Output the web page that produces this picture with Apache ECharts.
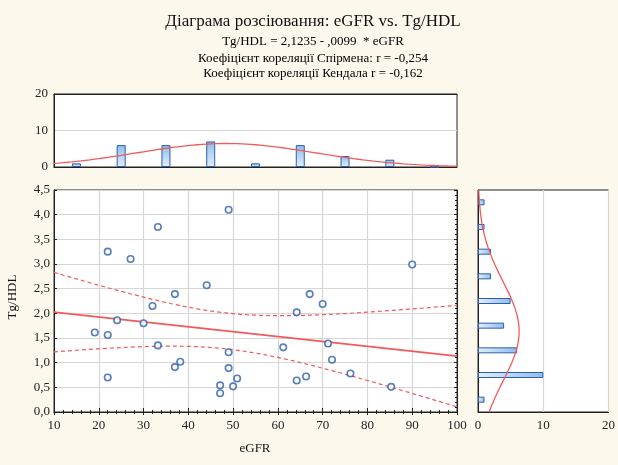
<!DOCTYPE html>
<html><head><meta charset="utf-8">
<script src="https://cdn.jsdelivr.net/npm/echarts@6/dist/echarts.min.js"></script>
<style>html,body{margin:0;padding:0;background:#fcf8ec;}#c{width:618px;height:465px;}</style>
</head><body><div id="c"></div>
<script>
// ---- data ----
const eGFR = [22.0, 27.1, 33.2, 32.0, 37.0, 44.1, 49.0, 24.1, 30.0, 90.0, 67.1, 70.0, 64.2, 19.1, 22.0, 33.2,
              22.0, 37.0, 38.2, 49.0, 49.0, 47.1, 47.1, 50.0, 50.9, 61.2, 71.2, 72.1, 64.2, 66.3, 76.2, 85.3];
const tgHdl = [3.25, 3.10, 3.75, 2.15, 2.39, 2.57, 4.10, 1.86, 1.80, 2.99, 2.39, 2.19, 2.02, 1.61, 1.56, 1.35,
               0.70, 0.91, 1.02, 1.21, 0.89, 0.54, 0.38, 0.52, 0.68, 1.31, 1.39, 1.06, 0.64, 0.72, 0.78, 0.51];
const eGFRBins = ['10-20','20-30','30-40','40-50','50-60','60-70','70-80','80-90','90-100'];
const eGFRCounts = [1, 6, 6, 7, 1, 6, 3, 2, 0];
const tgBins = ['0-0.5','0.5-1','1-1.5','1.5-2','2-2.5','2.5-3','3-3.5','3.5-4','4-4.5'];
const tgCounts = [1, 10, 6, 4, 5, 2, 2, 1, 1];
const intercept = 2.1235, slope = -0.0099;
const titleText = 'Діаграма розсіювання: eGFR vs. Tg/HDL';
const subLines = ['Tg/HDL = 2,1235 - ,0099  * eGFR',
                  'Коефіцієнт кореляції Спірмена: r = -0,254',
                  'Коефіцієнт кореляції Кендала r = -0,162'];

// ---- statistics derived from the data ----
const n = eGFR.length;
const mean = a => a.reduce((s, v) => s + v, 0) / a.length;
const sd = a => { const m = mean(a); return Math.sqrt(a.reduce((s, v) => s + (v - m) * (v - m), 0) / (a.length - 1)); };
const xm = mean(eGFR), xs = sd(eGFR), ym = mean(tgHdl), ys = sd(tgHdl);
const Sxx = eGFR.reduce((s, v) => s + (v - xm) * (v - xm), 0);
const sRes = Math.sqrt(eGFR.reduce((s, v, i) => { const r = tgHdl[i] - (intercept + slope * v); return s + r * r; }, 0) / (n - 2));
const tCrit = 2.042;
const pdf = (v, m, s) => Math.exp(-0.5 * ((v - m) / s) ** 2) / (s * Math.sqrt(2 * Math.PI));
const xCurve = [], yCurve = [], fit = [], upper = [], lower = [];
for (let x = 10; x <= 100; x += 1) {
  xCurve.push([x, n * 10 * pdf(x, xm, xs)]);
  const yh = intercept + slope * x;
  const hw = tCrit * sRes * Math.sqrt(1 / n + (x - xm) ** 2 / Sxx);
  upper.push([x, yh + hw]); lower.push([x, yh - hw]);
}
fit.push([10, intercept + slope * 10], [100, intercept + slope * 100]);
for (let y = 0; y <= 4.5001; y += 0.05) yCurve.push([n * 0.5 * pdf(y, ym, ys), y]);

const FONT = '"Liberation Serif", "Times New Roman", serif';
const gridLine = { show: true, lineStyle: { color: '#d6d6d6', width: 1.2 } };
const blackLine = { show: true, lineStyle: { color: '#222', width: 1 } };
const lab = { fontFamily: FONT, fontSize: 13, color: '#222' };
const comma = v => v.toFixed(1).replace('.', ',');

const chart = echarts.init(document.getElementById('c'), null, { renderer: 'canvas' });
chart.setOption({
  backgroundColor: '#fcf8ec',
  animation: false,
  grid: [
    { left: 54, top: 94, width: 403, height: 73, show: true, backgroundColor: '#fff', borderColor: '#222', borderWidth: 1 },
    { left: 54, top: 190, width: 403, height: 222, show: true, backgroundColor: '#fff', borderColor: '#222', borderWidth: 1 },
    { left: 478, top: 190, width: 134, height: 222, show: true, backgroundColor: '#fff', borderColor: '#222', borderWidth: 1 }
  ],
  xAxis: [
    { gridIndex: 0, type: 'category', data: eGFRBins, position: 'bottom', axisLine: blackLine,
      axisTick: { inside: true, length: 3, lineStyle: { color: '#222' } }, axisLabel: { show: false }, splitLine: { show: false } },
    { gridIndex: 0, type: 'category', data: eGFRBins, position: 'top', axisLine: blackLine,
      axisTick: { inside: true, length: 3, lineStyle: { color: '#222' } }, axisLabel: { show: false }, splitLine: { show: false } },
    { gridIndex: 0, type: 'value', min: 10, max: 100, show: false },
    { gridIndex: 1, type: 'value', min: 10, max: 100, interval: 10, position: 'bottom', axisLine: blackLine,
      axisTick: { inside: true, length: 4, lineStyle: { color: '#222' } },
      minorTick: { show: true, splitNumber: 5, length: 2, lineStyle: { color: '#222' } },
      axisLabel: Object.assign({ margin: 7 }, lab), splitLine: gridLine },
    { gridIndex: 1, type: 'value', min: 10, max: 100, interval: 10, position: 'top', axisLine: blackLine,
      axisTick: { inside: true, length: 3, lineStyle: { color: '#222' } },
      minorTick: { show: true, splitNumber: 5, length: 2, lineStyle: { color: '#222' } },
      axisLabel: { show: false }, splitLine: { show: false } },
    { gridIndex: 2, type: 'value', min: 0, max: 20, interval: 10, position: 'bottom', axisLine: blackLine,
      axisTick: { show: false }, axisLabel: Object.assign({ margin: 7 }, lab), splitLine: gridLine }
  ],
  yAxis: [
    { gridIndex: 0, type: 'value', min: 0, max: 20, interval: 10, axisLine: blackLine, axisTick: { show: false },
      axisLabel: Object.assign({ margin: 6 }, lab), splitLine: gridLine },
    { gridIndex: 1, type: 'value', min: 0, max: 4.5, interval: 0.5, axisLine: blackLine,
      axisTick: { inside: true, length: 3, lineStyle: { color: '#222' } },
      axisLabel: Object.assign({ margin: 4, formatter: comma }, lab), splitLine: gridLine },
    { gridIndex: 1, type: 'value', min: 0, max: 4.5, interval: 0.5, position: 'right', axisLine: blackLine,
      axisTick: { inside: true, length: 3, lineStyle: { color: '#222' } },
      minorTick: { show: true, splitNumber: 5, length: 2, lineStyle: { color: '#222' } },
      axisLabel: { show: false }, splitLine: { show: false } },
    { gridIndex: 2, type: 'category', data: tgBins, position: 'right', axisLine: blackLine,
      axisTick: { inside: true, length: 3, lineStyle: { color: '#222' } }, axisLabel: { show: false }, splitLine: { show: false } },
    { gridIndex: 2, type: 'value', min: 0, max: 4.5, show: false }
  ],
  series: [
    { type: 'bar', xAxisIndex: 0, yAxisIndex: 0, data: eGFRCounts, barWidth: 9,
      itemStyle: { borderColor: '#2d5fae', borderWidth: 1,
        color: new echarts.graphic.LinearGradient(0, 0, 0, 1, [{ offset: 0, color: '#8fbeea' }, { offset: 1, color: '#e2effb' }]) } },
    { type: 'line', xAxisIndex: 2, yAxisIndex: 0, data: xCurve, showSymbol: false, smooth: false,
      lineStyle: { color: '#f25a5a', width: 1.3 }, z: 5 },
    { type: 'line', xAxisIndex: 3, yAxisIndex: 1, data: upper, showSymbol: false,
      lineStyle: { color: '#f25a5a', width: 1.2, type: [4, 3] }, z: 3 },
    { type: 'line', xAxisIndex: 3, yAxisIndex: 1, data: lower, showSymbol: false,
      lineStyle: { color: '#f25a5a', width: 1.2, type: [4, 3] }, z: 3 },
    { type: 'line', xAxisIndex: 3, yAxisIndex: 1, data: fit, showSymbol: false,
      lineStyle: { color: '#f25a5a', width: 1.6 }, z: 3 },
    { type: 'scatter', xAxisIndex: 3, yAxisIndex: 1, data: eGFR.map((x, i) => [x, tgHdl[i]]),
      symbol: 'circle', symbolSize: 6.5, itemStyle: { color: '#fff', borderColor: '#2d5fae', borderWidth: 1.6 }, z: 4 },
    { type: 'bar', xAxisIndex: 5, yAxisIndex: 3, data: tgCounts, barWidth: 6,
      itemStyle: { borderColor: '#2d5fae', borderWidth: 1,
        color: new echarts.graphic.LinearGradient(0, 0, 1, 0, [{ offset: 0, color: '#e2effb' }, { offset: 1, color: '#8fbeea' }]) } },
    { type: 'line', xAxisIndex: 5, yAxisIndex: 4, data: yCurve, showSymbol: false,
      lineStyle: { color: '#f25a5a', width: 1.3 }, z: 5 }
  ],
  graphic: [
    { type: 'text', x: 313, y: 22, style: { text: titleText, fill: '#111', font: '17px ' + FONT, align: 'center', verticalAlign: 'middle' } },
    { type: 'text', x: 313, y: 42, style: { text: subLines[0], fill: '#000', font: '13px ' + FONT, align: 'center', verticalAlign: 'middle' } },
    { type: 'text', x: 313, y: 59, style: { text: subLines[1], fill: '#000', font: '13px ' + FONT, align: 'center', verticalAlign: 'middle' } },
    { type: 'text', x: 313, y: 74, style: { text: subLines[2], fill: '#000', font: '13px ' + FONT, align: 'center', verticalAlign: 'middle' } },
    { type: 'text', x: 255, y: 449, style: { text: 'eGFR', fill: '#111', font: '13px ' + FONT, align: 'center', verticalAlign: 'middle' } },
    { type: 'text', x: 13, y: 297, rotation: Math.PI / 2, style: { text: 'Tg/HDL', fill: '#111', font: '13px ' + FONT, align: 'center', verticalAlign: 'middle' } }
  ]
});
</script></body></html>
